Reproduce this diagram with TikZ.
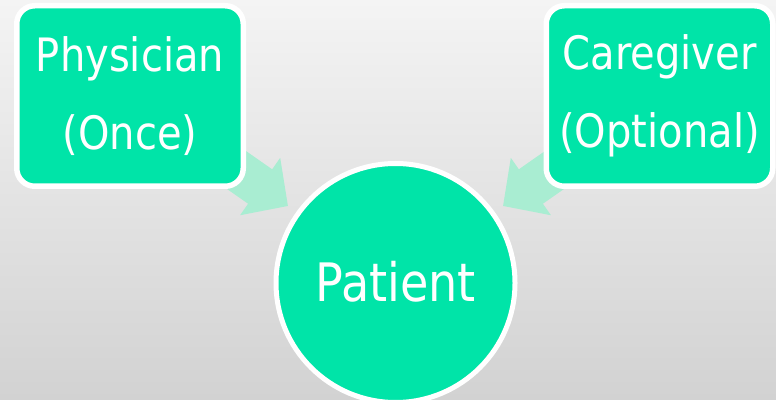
\documentclass[tikz,border=0pt]{standalone}
\usepackage{fontspec}
\setmainfont{DejaVu Sans}[FakeStretch=0.87]
\usetikzlibrary{arrows.meta}
\definecolor{boxgreen}{RGB}{0,228,168}
\definecolor{arrowmint}{RGB}{169,237,210}
\definecolor{bgtop}{RGB}{244,244,244}
\definecolor{bgbot}{RGB}{210,210,210}
\pgfdeclarelayer{bglayer}
\pgfdeclarelayer{arrlayer}
\pgfsetlayers{bglayer,arrlayer,main}
\tikzset{
  rolebox/.style={draw=white, line width=5.5pt, fill=boxgreen, rounded corners=18pt,
    minimum width=226.5pt, minimum height=180.5pt, inner sep=0pt, text=white,
    align=center, font=\fontsize{46}{75}\selectfont},
  patientnode/.style={circle, draw=white, line width=5pt, fill=boxgreen,
    minimum size=239pt, inner sep=0pt, text=white, font=\fontsize{53}{60}\selectfont},
  blockarrow/.style={draw=arrowmint, line width=42pt,
    -{Triangle[width=68pt,length=34pt]}}
}
\begin{document}
\begin{tikzpicture}[x=1pt,y=1pt]
\useasboundingbox (0,0) rectangle (776,399);
\begin{pgfonlayer}{bglayer}
  \fill[top color=bgtop, bottom color=bgbot] (0,0) rectangle (776,399);
\end{pgfonlayer}
\node[rolebox] (phys) at (130,303) {\raisebox{3pt}{Physician}\\(Once)};
\node[rolebox] (care) at (659.5,303) {\raisebox{3pt}{Caregiver}\\(Optional)};
\node[patientnode] (pat) at (395.5,116) {\raisebox{3pt}{Patient}};
\coordinate (tipL) at (288,193);
\coordinate (tipR) at (503,193);
\coordinate (startL) at (205,251);
\coordinate (startR) at (586,251);
\begin{pgfonlayer}{arrlayer}
  \draw[blockarrow] (startL) -- (tipL);
  \draw[blockarrow] (startR) -- (tipR);
\end{pgfonlayer}
\end{tikzpicture}
\end{document}
